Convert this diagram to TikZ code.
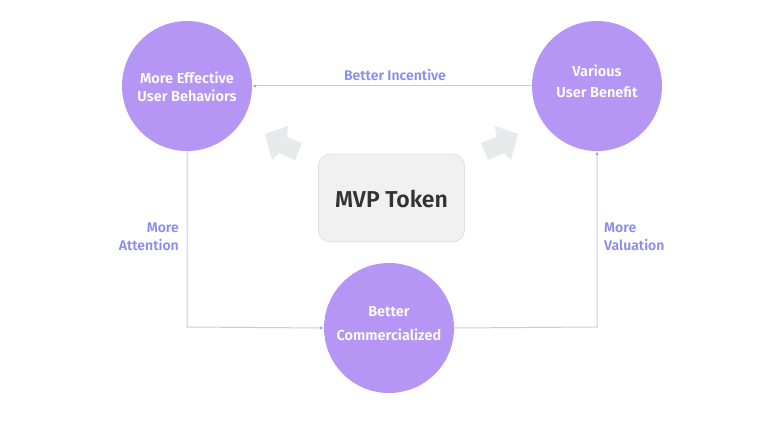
\documentclass[tikz,border=0pt]{standalone}
\usepackage{fontspec}
\setmainfont{Fira Sans}[BoldFont={Fira Sans SemiBold}]
\usetikzlibrary{arrows.meta}
\definecolor{circ}{HTML}{B596F5}
\definecolor{lineC}{HTML}{C8C8F8}
\definecolor{lbl}{HTML}{8A8CF0}
\definecolor{boxF}{HTML}{F1F1F1}
\definecolor{boxD}{HTML}{E0E0E0}
\definecolor{garr}{HTML}{E8E9EB}
\definecolor{txtD}{HTML}{333333}
\begin{document}
\begin{tikzpicture}[x=1pt,y=-1pt,
  bubble/.style={circle,fill=circ,minimum size=130pt,inner sep=0pt},
  btxt/.style={text=white,align=center},
  conn/.style={draw=lineC,line width=1pt,-{Latex[length=4pt,width=3.5pt,color=lbl!80]}},
  lab/.style={text=lbl,inner sep=0pt,font=\bfseries\fontsize{14}{18}\selectfont},
  bigarrow/.style={fill=garr,draw=none}]
\useasboundingbox (0,0) rectangle (768,425);
\node[bubble] (L) at (187,86) {};
\node[bubble] (R) at (597,86) {};
\node[bubble] (B) at (389,328) {};
\node[btxt,font=\bfseries\fontsize{14.5}{18}\selectfont] (Lt) at (187,87) {More Effective\\User Behaviors};
\node[btxt,font=\bfseries\fontsize{14.5}{21}\selectfont] (Rt) at (597,81) {Various\\User Benefit};
\node[btxt,font=\bfseries\fontsize{14.5}{24}\selectfont] (Bt) at (389,324) {Better\\Commercialized};
\node[draw=boxD,fill=boxF,rounded corners=12pt,minimum width=146pt,minimum height=88pt,line width=0.8pt] (M) at (391.5,198) {};
\node[text=txtD,font=\bfseries\fontsize{23}{26}\selectfont] (Mt) at (391.5,199) {MVP Token};
% gray arrows
\fill[bigarrow] (265,134) -- (288,126) -- (287,137) -- (302,143) -- (295,160) -- (279,153) -- (272,160) -- cycle;
\fill[bigarrow] (518,134) -- (495,126) -- (496,137) -- (481,143) -- (488,160) -- (504,153) -- (511,160) -- cycle;
% connectors
\draw[conn] (R.west) -- (L.east);
\coordinate (c1) at (187,327);
\coordinate (c2) at (597,327);
\draw[conn] (L.south) -- (c1) -- (B.west);
\draw[conn] (B.east) -- (c2) -- (R.south);
% labels
\node[lab] (l1) at (395,75) {Better Incentive};
\node[lab,anchor=east,align=right] (l2) at (179,237) {More\\Attention};
\node[lab,anchor=west,align=left] (l3) at (604,237) {More\\Valuation};
\end{tikzpicture}
\end{document}
